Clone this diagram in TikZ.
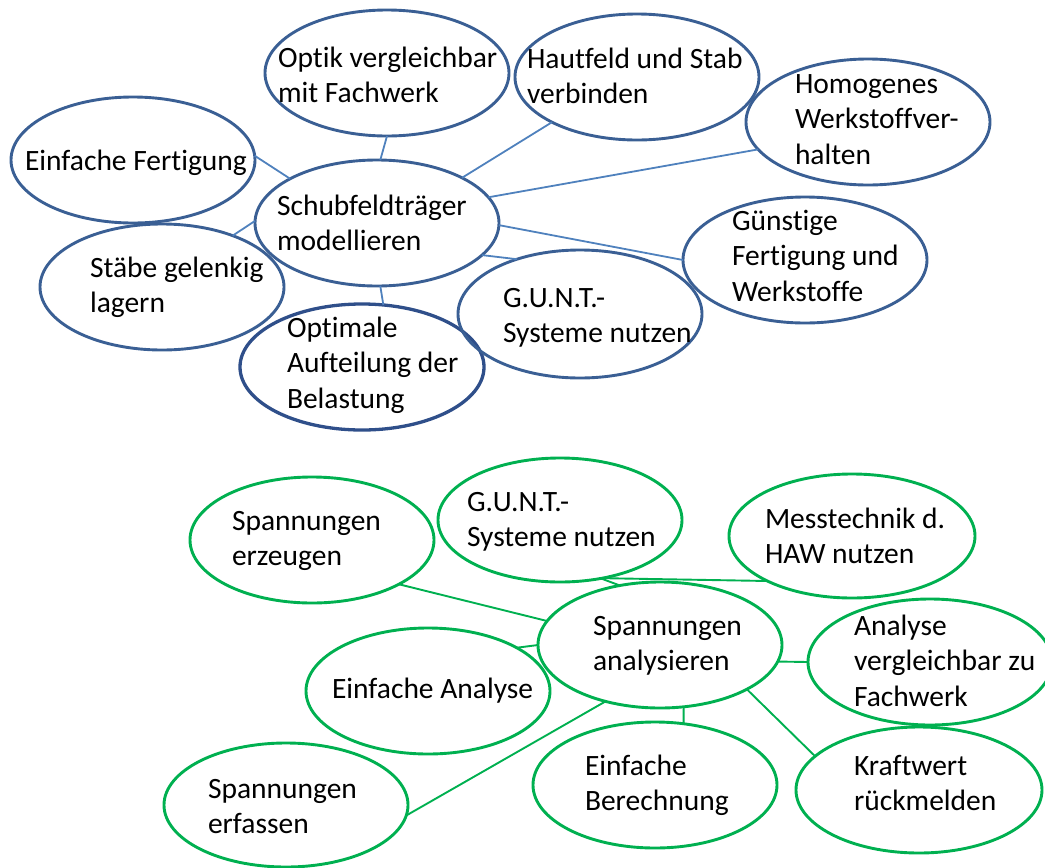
\documentclass[tikz,border=0pt]{standalone}
\usepackage{fontspec}
\setmainfont[Ligatures=NoCommon]{Carlito}
\usetikzlibrary{shapes.geometric}
\definecolor{bord}{HTML}{3A5F94}
\definecolor{bordd}{HTML}{2F4F8A}
\definecolor{conn}{HTML}{4F81BD}
\definecolor{grn}{HTML}{00B050}
\newcommand{\mlines}[1]{\begin{tabular}[t]{@{}l@{}}#1\end{tabular}}
\tikzset{
  bub/.style={ellipse, draw=bord, line width=2.9pt, inner sep=0pt, outer sep=0pt,
    minimum width=244pt, minimum height=126pt},
  bubd/.style={bub, draw=bordd, line width=3.3pt},
  gbub/.style={bub, draw=grn},
  txt/.style={anchor=base west, inner sep=0pt, outer sep=0pt, text=black,
    font=\fontsize{29.5pt}{35.5pt}\selectfont},
  bl/.style={draw=conn, line width=1.8pt},
  gl/.style={draw=grn, line width=1.9pt}
}
\begin{document}
\begin{tikzpicture}[x=1pt,y=-1pt]
\useasboundingbox (0,0) rectangle (1045,868);
\clip (0,0) rectangle (1045,868);
% top group
\node[bub] (optik) at (387,73) {};
\node[bub] (haut) at (637,77) {};
\node[bub] (homo) at (868,122) {};
\node[bub] (einfF) at (133,160) {};
\node[bub] (sch) at (377,223) {};
\node[bub] (stab) at (162,287) {};
\node[bubd] (opt) at (362,367) {};
\node[bub, minimum height=128pt] (gunt1) at (580,314) {};
\node[bub] (guen) at (805,260) {};

\node[txt] (optikT) at (278,67) {\mlines{Optik vergleichbar\\mit Fachwerk}};
\node[txt] (hautT) at (527,68) {\mlines{Hautfeld und Stab\\verbinden}};
\node[txt] (homoT) at (795,93) {\mlines{Homogenes\\Werkstoffver-\\halten}};
\node[txt] (einfFT) at (25,170) {Einfache Fertigung};
\node[txt] (schT) at (277,215) {\mlines{Schubfeldträger\\modellieren}};
\node[txt] (stabT) at (90,277) {\mlines{Stäbe gelenkig\\lagern}};
\node[txt] (optT) at (287,337) {\mlines{Optimale\\Aufteilung der\\Belastung}};
\node[txt] (gunt1T) at (503,307) {\mlines{G.U.N.T.-\\Systeme nutzen}};
\node[txt] (guenT) at (732,230) {\mlines{Günstige\\Fertigung und\\Werkstoffe}};

\draw[bl] (einfF.2) -- (sch.153);
\draw[bl] (optik.-90) -- (sch.87);
\draw[bl] (haut.208) -- (sch.28);
\draw[bl] (homo.194) -- (sch.13);
\draw[bl] (guen.180) -- (sch.-1);
\draw[bl] (sch.-17) -- (gunt1.139);
\draw[bl] (stab.36) -- (sch.179);
\draw[bl] (sch.-87) -- (opt.71);

% bottom group
\node[gbub] (erz) at (312,540) {};
\node[gbub, minimum height=124pt] (gunt2) at (560,520) {};
\node[gbub, minimum width=246pt, minimum height=124pt] (mess) at (852,536) {};
\node[gbub] (ana) at (660,645) {};
\node[gbub] (avgl) at (930,662) {};
\node[gbub] (eana) at (428,691) {};
\node[gbub, minimum height=124pt] (erf) at (286,805) {};
\node[gbub] (ber) at (655,785) {};
\node[gbub, minimum width=246pt] (kraft) at (919,790) {};

\node[txt] (erzT) at (232,530) {\mlines{Spannungen\\erzeugen}};
\node[txt] (gunt2T) at (467,511) {\mlines{G.U.N.T.-\\Systeme nutzen}};
\node[txt] (messT) at (765,528) {\mlines{Messtechnik d.\\HAW nutzen}};
\node[txt] (anaT) at (593,635) {\mlines{Spannungen\\analysieren}};
\node[txt] (avglT) at (854,635) {\mlines{Analyse\\vergleichbar zu\\Fachwerk}};
\node[txt] (eanaT) at (332,698) {Einfache Analyse};
\node[txt] (erfT) at (208,798) {\mlines{Spannungen\\erfassen}};
\node[txt] (berT) at (585,775) {\mlines{Einfache\\Berechnung}};
\node[txt] (kraftT) at (854,775) {\mlines{Kraftwert\\rückmelden}};

\draw[gl] (erz.-27) -- (ana.168);
\draw[gl] (gunt2.-55) -- (ana.124);
\draw[gl] (gunt2.-54) -- (mess.208);
\draw[gl] (eana.26) -- (ana.180);
\draw[gl] (erf.-5) -- (ana.226);
\draw[gl] (ana.-8) -- (avgl.180);
\draw[gl] (ana.-69) -- (ber.65);
\draw[gl] (ana.-27) -- (kraft.162);
\end{tikzpicture}
\end{document}
